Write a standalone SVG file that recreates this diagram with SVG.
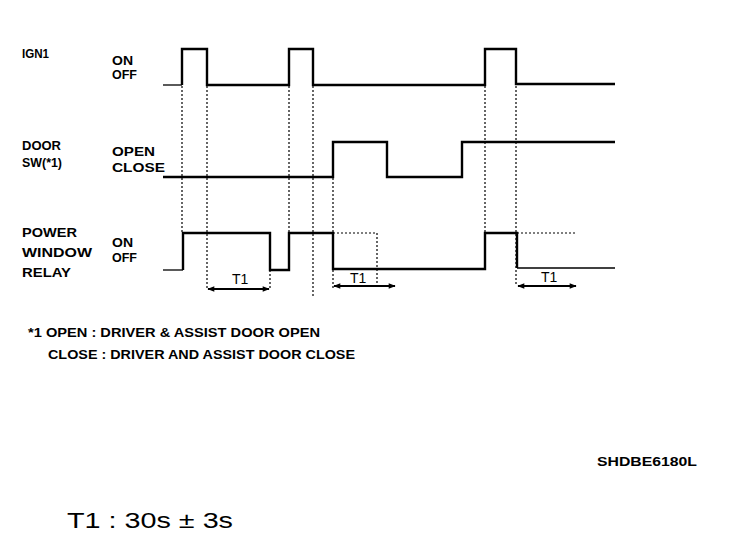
<svg xmlns="http://www.w3.org/2000/svg" width="736" height="542" viewBox="0 0 736 542">
<style>
.lbl{font-family:"Liberation Sans",Arial,sans-serif;font-weight:bold;font-size:13px;fill:#000}
.t1{font-family:"Liberation Sans",Arial,sans-serif;font-size:14px;fill:#000}
.sig{fill:none;stroke:#000;stroke-width:2.4;stroke-linejoin:miter}
.thin{fill:none;stroke:#000;stroke-width:1.3}
.dot{fill:none;stroke:#000;stroke-width:1.2;stroke-dasharray:2,2}
.arr{fill:none;stroke:#000;stroke-width:2;marker-start:url(#ah);marker-end:url(#ah)}
</style>
<defs>
<marker id="ah" viewBox="0 0 10 10" refX="9" refY="5" markerWidth="8" markerHeight="7" orient="auto-start-reverse" markerUnits="userSpaceOnUse">
<path d="M0,1 L10,5 L0,9 Z" fill="#000"/>
</marker>
</defs>
<rect width="736" height="542" fill="#fff"/>

<g id="ign1">
<text class="lbl" x="22" y="58" textLength="27" lengthAdjust="spacingAndGlyphs">IGN1</text>
<text class="lbl" x="112" y="65" textLength="21" lengthAdjust="spacingAndGlyphs">ON</text>
<text class="lbl" x="112" y="79" textLength="25" lengthAdjust="spacingAndGlyphs">OFF</text>
<path class="thin" d="M163,85 H182"/>
<path class="sig" d="M182,85 V49 H207 V85 H289 V49 H313 V85 H485 V49 H516 V84 H615"/>
</g>

<g id="door">
<text class="lbl" x="22" y="150" textLength="39" lengthAdjust="spacingAndGlyphs">DOOR</text>
<text class="lbl" x="22" y="167" textLength="40" lengthAdjust="spacingAndGlyphs">SW(*1)</text>
<text class="lbl" x="112" y="156" textLength="43" lengthAdjust="spacingAndGlyphs">OPEN</text>
<text class="lbl" x="112" y="172" textLength="53" lengthAdjust="spacingAndGlyphs">CLOSE</text>
<path class="sig" d="M163,177 H333 V142 H387 V177 H462 V142 H615"/>
</g>

<g id="relay">
<text class="lbl" x="22" y="237" textLength="55" lengthAdjust="spacingAndGlyphs">POWER</text>
<text class="lbl" x="22" y="257" textLength="70" lengthAdjust="spacingAndGlyphs">WINDOW</text>
<text class="lbl" x="22" y="277" textLength="49" lengthAdjust="spacingAndGlyphs">RELAY</text>
<text class="lbl" x="112" y="247" textLength="21" lengthAdjust="spacingAndGlyphs">ON</text>
<text class="lbl" x="112" y="262" textLength="25" lengthAdjust="spacingAndGlyphs">OFF</text>
<path class="thin" d="M163,270 H183"/>
<path class="sig" d="M183,270 V233 H270 V270 H289 V233 H333 V269 H485 V233 H517 V268"/>
<path class="thin" d="M517,268 H615"/>
</g>

<g id="connectors">
<path class="dot" d="M182,86 V233"/>
<path class="dot" d="M207,86 V290"/>
<path class="dot" d="M270,270 V290"/>
<path class="dot" d="M289,86 V233"/>
<path class="dot" d="M313,86 V298"/>
<path class="dot" d="M333,178 V233"/>
<path class="dot" d="M333,270 V288"/>
<path class="dot" d="M333,233 H377 V288"/>
<path class="dot" d="M485,86 V233"/>
<path class="dot" d="M516,86 V286"/>
<path class="dot" d="M517,233 H577"/>
<path class="arr" d="M208,289 H269"/>
<path class="arr" d="M334,286 H395"/>
<path class="arr" d="M518,286 H576"/>
</g>

<g id="t1-labels">
<text class="t1" x="232" y="284">T1</text>
<text class="t1" x="350" y="283">T1</text>
<text class="t1" x="541" y="282">T1</text>
</g>

<g id="notes">
<text class="lbl" x="28" y="337" textLength="292" lengthAdjust="spacingAndGlyphs">*1  OPEN : DRIVER &amp; ASSIST DOOR OPEN</text>
<text class="lbl" x="48" y="359" textLength="307" lengthAdjust="spacingAndGlyphs">CLOSE : DRIVER AND ASSIST DOOR CLOSE</text>
<text class="lbl" x="597" y="466" textLength="100" lengthAdjust="spacingAndGlyphs">SHDBE6180L</text>
<text x="67" y="528" font-family="Liberation Sans, Arial, sans-serif" font-size="22" textLength="166" lengthAdjust="spacingAndGlyphs">T1 :  30s ± 3s</text>
</g>
</svg>
